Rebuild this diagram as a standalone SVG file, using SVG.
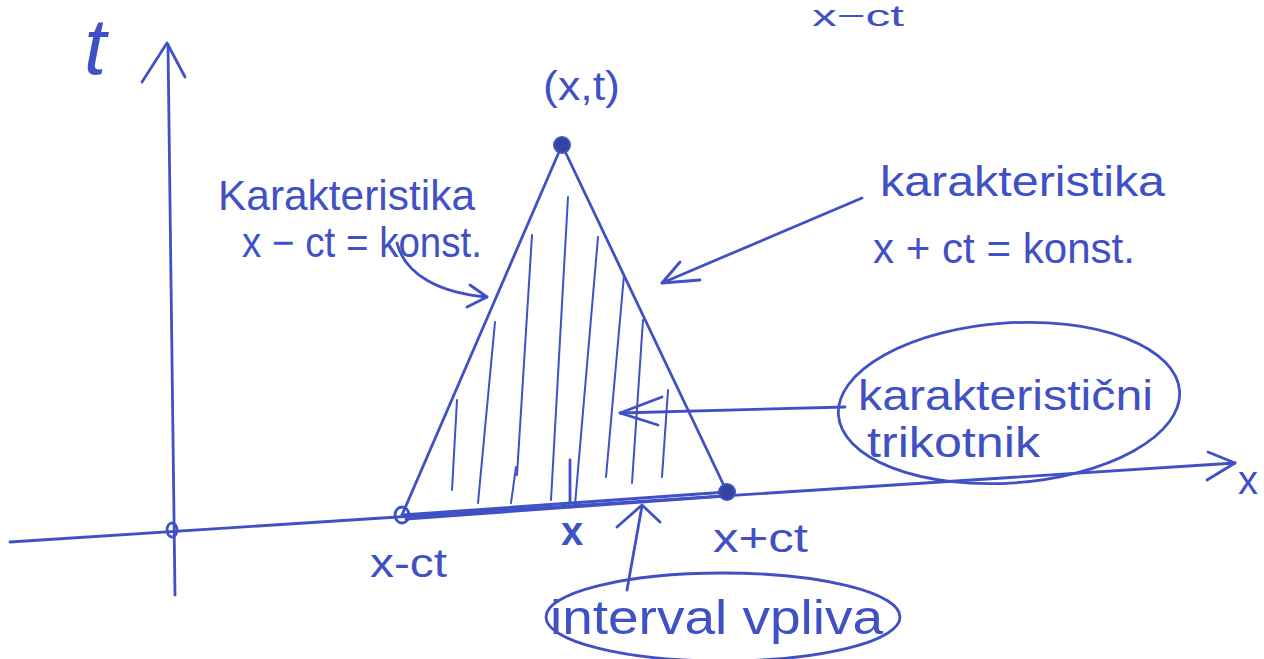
<svg xmlns="http://www.w3.org/2000/svg" width="1264" height="659" viewBox="0 0 1264 659">
<style>
  .ink { fill: none; stroke: #3f51c4; stroke-width: 2.8; stroke-linecap: round; stroke-linejoin: round; }
  .thin { fill: none; stroke: #3f51c4; stroke-width: 2; stroke-linecap: round; }
  .dot { fill: #34449f; stroke: #3f51c4; stroke-width: 2; }
  .lbl { font-family: "Liberation Sans", "DejaVu Sans", sans-serif; fill: #3f51c4; }
</style>
<rect width="1264" height="659" fill="#ffffff"/>

<g id="axes">
  <path class="ink" d="M175 595 L168 45"/>
  <path class="ink" d="M142 82 L167 43 L185 77"/>
  <path class="ink" d="M10 542 L1235 463"/>
  <path class="ink" d="M1208 452 L1235 463 L1207 480"/>
  <ellipse class="ink" cx="172" cy="530" rx="5" ry="7"/>
  <text class="lbl" x="84" y="74" font-size="80" font-style="italic">t</text>
  <text class="lbl" x="1238" y="494" font-size="40">x</text>
</g>

<g id="triangle">
  <path class="ink" d="M402 515 L562 145 L727 492"/>
  <path class="ink" d="M402 515 L727 492"/>
  <path class="ink" d="M406 519 L725 496"/>
  <g id="hatch">
    <path class="thin" d="M457 400 L452 490"/>
    <path class="thin" d="M495 322 L478 503"/>
    <path class="thin" d="M532 235 L517 475"/>
    <path class="thin" d="M516 467 L511 503"/>
    <path class="thin" d="M568 197 L551 500"/>
    <path class="thin" d="M598 237 L575 505"/>
    <path class="thin" d="M624 275 L606 477"/>
    <path class="thin" d="M643 320 L632 483"/>
    <path class="thin" d="M668 390 L662 477"/>
    <path class="ink" d="M570 460 L570 507"/>
  </g>
  <circle class="dot" cx="562" cy="145" r="8"/>
  <ellipse class="ink" cx="402" cy="515" rx="7" ry="8"/>
  <circle class="dot" cx="727" cy="492" r="8"/>
</g>

<g id="point-labels">
  <text class="lbl" x="543" y="100" font-size="40" textLength="77" lengthAdjust="spacingAndGlyphs">(x,t)</text>
  <text class="lbl" x="812" y="26" font-size="30" textLength="92" lengthAdjust="spacingAndGlyphs">x−ct</text>
  <text class="lbl" x="370" y="577" font-size="40" textLength="77" lengthAdjust="spacingAndGlyphs">x-ct</text>
  <text class="lbl" x="561" y="545" font-size="40" font-weight="bold">x</text>
  <text class="lbl" x="713" y="552" font-size="40" textLength="95" lengthAdjust="spacingAndGlyphs">x+ct</text>
</g>

<g id="char-left">
  <text class="lbl" x="218" y="210" font-size="42" textLength="257" lengthAdjust="spacingAndGlyphs">Karakteristika</text>
  <text class="lbl" x="242" y="257" font-size="42" textLength="240" lengthAdjust="spacingAndGlyphs">x − ct = konst.</text>
</g>

<g id="char-right">
  <text class="lbl" x="880" y="196" font-size="42" textLength="285" lengthAdjust="spacingAndGlyphs">karakteristika</text>
  <text class="lbl" x="873" y="263" font-size="42" textLength="262" lengthAdjust="spacingAndGlyphs">x + ct = konst.</text>
</g>

<g id="char-triangle">
  <ellipse class="ink" cx="1009" cy="403" rx="171" ry="80" transform="rotate(-4 1009 403)"/>
  <text class="lbl" x="858" y="410" font-size="42" textLength="295" lengthAdjust="spacingAndGlyphs">karakteristični</text>
  <text class="lbl" x="867" y="457" font-size="42" textLength="173" lengthAdjust="spacingAndGlyphs">trikotnik</text>
</g>

<g id="interval">
  <ellipse class="ink" cx="723" cy="617" rx="177" ry="44"/>
  <text class="lbl" x="550" y="634" font-size="48" textLength="333" lengthAdjust="spacingAndGlyphs">interval vpliva</text>
</g>

<g id="connectors">
  <path class="ink" d="M397 243 C405 275 440 293 487 297"/>
  <path class="ink" d="M470 285 L487 297 L467 307"/>
  <path class="ink" d="M862 198 L662 283"/>
  <path class="ink" d="M680 262 L662 283 L700 280"/>
  <path class="ink" d="M845 407 L620 413"/>
  <path class="ink" d="M662 397 L620 413 L658 425"/>
  <path class="ink" d="M627 590 L642 506"/>
  <path class="ink" d="M617 527 L642 505 L660 522"/>
</g>
</svg>
